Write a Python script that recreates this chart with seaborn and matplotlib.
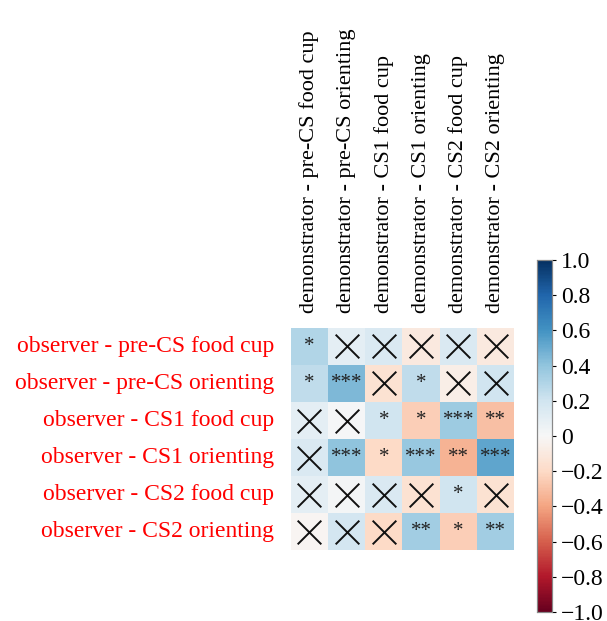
import numpy as np
import pandas as pd
import matplotlib
matplotlib.use("Agg")
import matplotlib.pyplot as plt
import seaborn as sns
from matplotlib.ticker import FuncFormatter

rows = ["observer - pre-CS food cup", "observer - pre-CS orienting",
        "observer - CS1 food cup", "observer - CS1 orienting",
        "observer - CS2 food cup", "observer - CS2 orienting"]
cols = ["demonstrator - pre-CS food cup", "demonstrator - pre-CS orienting",
        "demonstrator - CS1 food cup", "demonstrator - CS1 orienting",
        "demonstrator - CS2 food cup", "demonstrator - CS2 orienting"]

values = [
    [0.30, 0.10, 0.15, -0.10, 0.15, -0.10],
    [0.25, 0.45, -0.15, 0.25, -0.07, 0.20],
    [0.10, 0.01, 0.20, -0.25, 0.36, -0.30],
    [0.15, 0.40, -0.20, 0.38, -0.35, 0.53],
    [0.10, 0.02, 0.15, -0.15, 0.20, -0.15],
    [-0.02, 0.18, -0.20, 0.35, -0.25, 0.35],
]
signif = [
    ["*", "", "", "", "", ""],
    ["*", "***", "", "*", "", ""],
    ["", "", "*", "*", "***", "**"],
    ["", "***", "*", "***", "**", "***"],
    ["", "", "", "", "*", ""],
    ["", "", "", "**", "*", "**"],
]

plt.rcParams['font.family'] = ['Liberation Serif', 'DejaVu Serif']
plt.rcParams['axes.unicode_minus'] = True

df = pd.DataFrame(values, index=rows, columns=cols)
annot = np.array(signif)

fig = plt.figure(figsize=(6.07, 6.21), dpi=100)
ax = fig.add_axes([0.479, 0.114, 0.368, 0.358])
cax = fig.add_axes([0.885, 0.0145, 0.024, 0.567])

sns.heatmap(df, ax=ax, cbar_ax=cax, cmap="RdBu", vmin=-1, vmax=1,
            annot=annot, fmt="", annot_kws={"color": "#222222", "fontsize": 15},
            square=False)

# X markers for non-significant cells
for i in range(len(rows)):
    for j in range(len(cols)):
        if signif[i][j] == "":
            ax.scatter(j + 0.5, i + 0.5, marker="x", s=290, color="#111111", linewidths=1.4)

ax.xaxis.tick_top()
ax.set_xticklabels(cols, rotation=90, fontsize=16)
ax.set_yticklabels(rows, rotation=0, fontsize=17, color="red")
ax.tick_params(axis="y", length=0, pad=12)
ax.tick_params(axis="x", length=0, pad=11)
ax.set_xlabel("")
ax.set_ylabel("")

cax.yaxis.set_major_formatter(FuncFormatter(lambda v, p: "0" if abs(v) < 1e-9 else ("%.1f" % v).replace("-", "\u2212")))
cax.set_yticks(np.arange(-1.0, 1.01, 0.2))
cax.tick_params(labelsize=17, length=3)
for s in cax.spines.values():
    s.set_visible(True)
    s.set_color("#888888")
    s.set_linewidth(0.8)

fig.savefig("out.png", dpi=100)
